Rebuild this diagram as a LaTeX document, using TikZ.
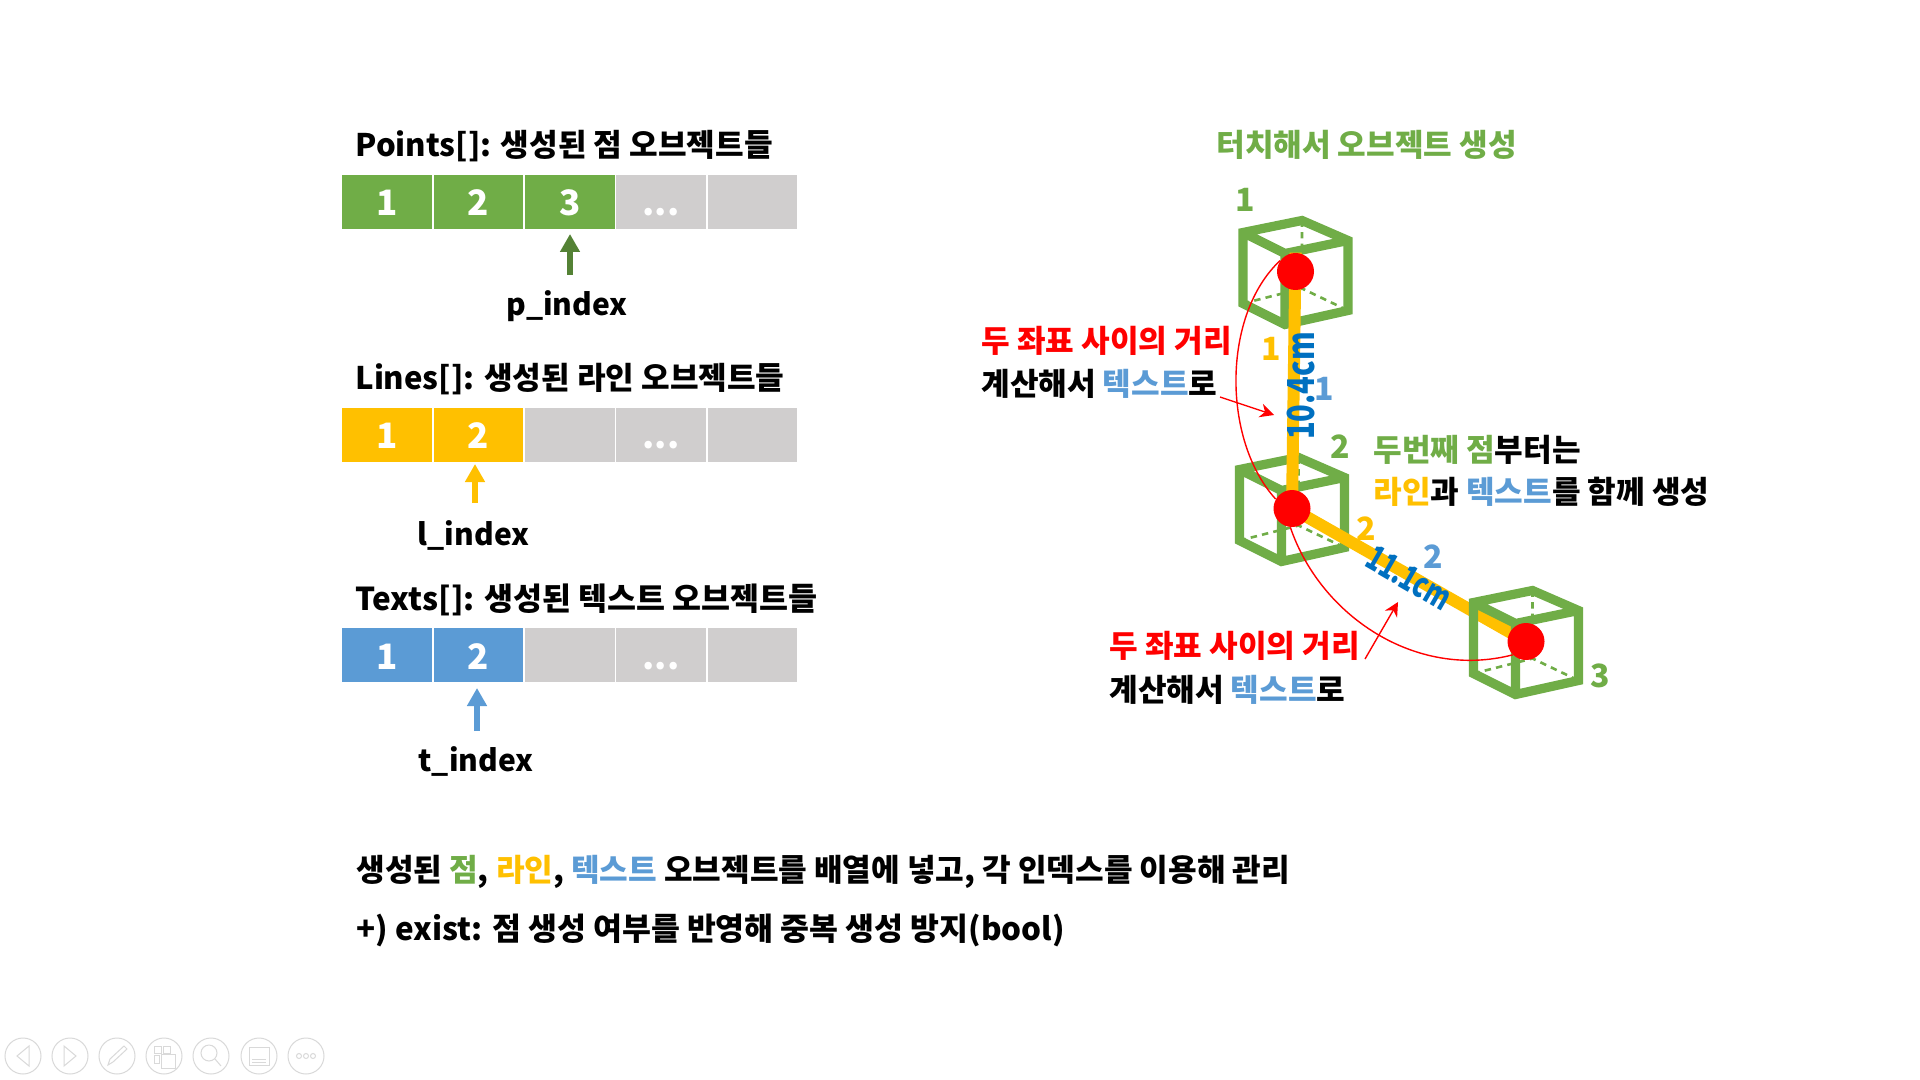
\documentclass[tikz,border=0pt]{standalone}
\usepackage{fontspec}
\setmainfont{Noto Sans CJK KR}
\usetikzlibrary{arrows.meta,backgrounds}
\definecolor{cg}{HTML}{70AD47}
\definecolor{cy}{HTML}{FFC000}
\definecolor{cb}{HTML}{5B9BD5}
\definecolor{cgray}{HTML}{D0CECE}
\definecolor{cdg}{HTML}{548235}
\definecolor{cval}{HTML}{0070C0}
\definecolor{cicon}{HTML}{D9D9D9}
\newcommand{\cgreen}[1]{\textcolor{cg}{#1}}
\newcommand{\cyellow}[1]{\textcolor{cy}{#1}}
\newcommand{\cblue}[1]{\textcolor{cb}{#1}}
\newcommand{\cred}[1]{\textcolor{red}{#1}}
\tikzset{
  txt/.style={anchor=base west,inner sep=0pt,font=\fontsize{15.55}{17}\selectfont\bfseries},
  ctxt/.style={anchor=base,inner sep=0pt,font=\fontsize{15}{17}\selectfont\bfseries},
  num/.style={anchor=center,inner sep=0pt,font=\fontsize{16}{18}\selectfont\bfseries},
  cell/.style={minimum width=44.7pt,minimum height=27pt,inner sep=0pt,text=white,text height=14pt,text depth=0pt,font=\fontsize{17.5}{19}\selectfont\bfseries},
  gcell/.style={cell,fill=cg},ycell/.style={cell,fill=cy},bcell/.style={cell,fill=cb},ncell/.style={cell,fill=cgray},
  dot/.style={circle,fill=red,minimum size=18.5pt,inner sep=0pt},
  val/.style={anchor=center,inner sep=0pt,text=cval,font=\fontsize{15.5}{17}\selectfont\bfseries},
  blockarrow/.style={draw=#1,line width=3pt,-{Triangle[length=9pt,width=9.5pt,fill=#1]}},
  redthin/.style={draw=red,line width=0.7pt},
  redarrow/.style={redthin,-{Stealth[length=7pt,width=7pt]}},
  icon/.style={draw=cicon,line width=0.5pt},
  pics/cube/.style={code={
    \draw[cg,line width=1.3pt,dash pattern=on 3.2pt off 2.6pt] (6.5,-51)--(6.5,17) (-52.5,32)--(6.5,17)--(52.5,39);
    \draw[cg,line width=4.6pt,line join=miter]
      (-52.5,-39)--(6.5,-51)--(52.5,-31)--(52.5,39)--(-10.5,53)--(-52.5,32)--cycle
      (-52.5,-39)--(-10.5,-18)--(52.5,-31) (-10.5,-18)--(-10.5,53);
  }}
}
\pgfdeclarelayer{under}
\pgfsetlayers{under,main}
\begin{document}
\begin{tikzpicture}[x=0.5pt,y=-0.5pt]
\useasboundingbox (0,0) rectangle (1920,1080);
% titles
\node[txt] (ptitle) at (355,157) {Points[]: 생성된 점 오브젝트들};
\node[txt] (ltitle) at (355,389) {Lines[]: 생성된 라인 오브젝트들};
\node[txt,font=\fontsize{15.75}{17}\selectfont\bfseries] (ttitle) at (355,610) {Texts[]: 생성된 텍스트 오브젝트들};
% cells
\node[gcell] (p1c) at (387,202) {1};
\node[gcell] (p2c) at (478.5,202) {2};
\node[gcell] (p3c) at (570,202) {3};
\node[ncell] (p4c) at (661,202) {...};
\node[ncell] (p5c) at (752.5,202) {};
\node[ycell] (l1c) at (387,434.5) {1};
\node[ycell] (l2c) at (478.5,434.5) {2};
\node[ncell] (l3c) at (570,434.5) {};
\node[ncell] (l4c) at (661,434.5) {...};
\node[ncell] (l5c) at (752.5,434.5) {};
\node[bcell] (t1c) at (387,655) {1};
\node[bcell] (t2c) at (478.5,655) {2};
\node[ncell] (t3c) at (570,655) {};
\node[ncell] (t4c) at (661,655) {...};
\node[ncell] (t5c) at (752.5,655) {};
% index labels
\node[ctxt] (pidx) at (567,316) {p\_index};
\node[ctxt] (lidx) at (473.5,545) {l\_index};
\node[ctxt] (tidx) at (476,771) {t\_index};
\coordinate (pa) at (570,275); \coordinate (pb) at (570,234);
\coordinate (la) at (475,503); \coordinate (lb) at (475,464);
\coordinate (ta) at (477,731); \coordinate (tb) at (477,688);
\draw[blockarrow=cdg] (pa)--(pb);
\draw[blockarrow=cy] (la)--(lb);
\draw[blockarrow=cb] (ta)--(tb);
% points
\node[dot] (p1) at (1295.5,271.5) {};
\node[dot] (p2) at (1292,508.5) {};
\node[dot] (p3) at (1526,641.5) {};
\begin{pgfonlayer}{under}
  \fill[white] (0,0) rectangle (1920,1080);
  \pic at (p1.center) {cube};
  \pic at (p2.center) {cube};
  \draw[cy,line width=6pt] (p1.north)--(p2.center);
  \draw[cy,line width=6pt] (p2.center)--(p3.center);
  \pic at (p3.center) {cube};
\end{pgfonlayer}
% arcs
\draw[redthin] (p1.145) .. controls (1222,315) and (1222,440) .. (p2.150);
\draw[redthin] (p2.265) .. controls (1320,615) and (1415,680) .. (p3.225);
% right labels
\node[txt] (rtitle) at (1216,157) {\cgreen{터치해서 오브젝트 생성}};
\node[txt] (d1a) at (981,352) {\cred{두 좌표 사이의 거리}};
\node[txt] (d1b) at (981,395) {계산해서 \cblue{텍스트}로};
\node[txt] (s1) at (1373,461) {\cgreen{두번째 점}부터는};
\node[txt] (s2) at (1373,503) {\cyellow{라인}과 \cblue{텍스트}를 함께 생성};
\node[txt] (d2a) at (1109,657) {\cred{두 좌표 사이의 거리}};
\node[txt] (d2b) at (1109,701) {계산해서 \cblue{텍스트}로};
\coordinate (a1s) at (1220,397); \coordinate (a1e) at (1274,415);
\coordinate (a2s) at (1365,659); \coordinate (a2e) at (1398,602);
\draw[redarrow] (a1s)--(a1e);
\draw[redarrow] (a2s)--(a2e);
% numbers
\node[num,text=cg] (ng1) at (1245,200) {1};
\node[num,text=cy] (ny1) at (1271,349) {1};
\node[num,text=cb] (nb1) at (1324,389) {1};
\node[num,text=cg] (ng2) at (1340,447) {2};
\node[num,text=cy] (ny2) at (1366,529) {2};
\node[num,text=cb] (nb2) at (1433,557) {2};
\node[num,text=cg] (ng3) at (1600,676) {3};
\node[val,rotate=90] (v1) at (1301,386) {\scalebox{0.94}[1.2]{10.4cm}};
\node[val,rotate=-30] (v2) at (1409,578) {\scalebox{0.8}[1.12]{11.1cm}};
% bottom
\node[txt] (b1) at (356,881) {생성된 \cgreen{점}, \cyellow{라인}, \cblue{텍스트} 오브젝트를 배열에 넣고, 각 인덱스를 이용해 관리};
\node[txt,font=\fontsize{15.7}{17}\selectfont\bfseries] (b2) at (356,940) {+) exist: 점 생성 여부를 반영해 중복 생성 방지(bool)};
% player icons
\foreach \cx in {23,70,117,164,211,259,306} \draw[icon] (\cx,1056) circle (18);
\draw[icon] (29,1046)--(17,1056)--(29,1066)--cycle;
\draw[icon] (64,1046)--(76,1056)--(64,1066)--cycle;
\draw[icon] (108,1065)--(110,1059)--(124,1046)--(127,1049)--(113,1062)--cycle;
\draw[icon] (154,1046) rectangle (161,1053) (163,1046) rectangle (170,1053) (154,1055) rectangle (159,1063) (161,1054) rectangle (175,1068);
\draw[icon] (209,1053) circle (8) (215,1059)--(221,1066);
\draw[icon] (249,1047) rectangle (269,1065) (252,1059)--(266,1059) (252,1062)--(266,1062);
\draw[icon] (299,1056) circle (2.5) (306,1056) circle (2.5) (313,1056) circle (2.5);
\end{tikzpicture}
\end{document}
